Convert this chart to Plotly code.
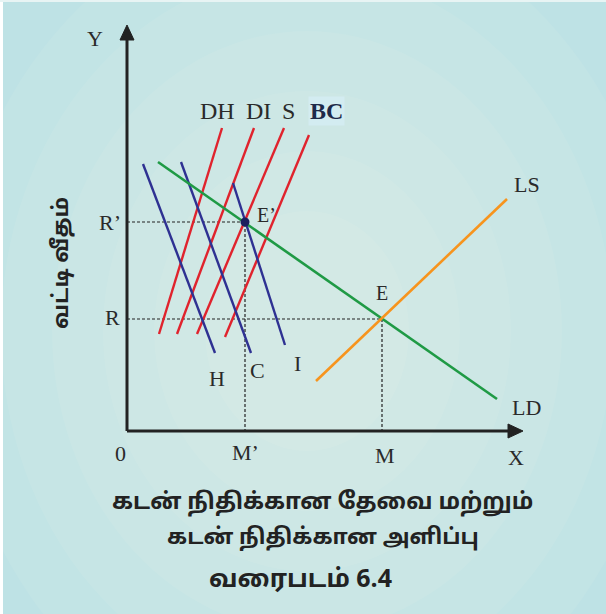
import plotly.graph_objects as go

# ---- data (units measured from the origin of the diagram) ----
x_axis_len = 396
y_axis_len = 406

red_names = ["DH", "DI", "S", "BC"]
red_x0 = [32, 50, 70, 98]
red_y0 = [97, 97, 97, 94]
red_x1 = [95, 127, 157, 182]
red_y1 = [303, 303, 303, 296]

blue_names = ["H", "C", "I"]
blue_x0 = [16, 54, 106]
blue_y0 = [267, 269, 248]
blue_x1 = [88, 124, 158]
blue_y1 = [78, 78, 86]

ld_x = [31, 370]
ld_y = [269, 32]
ls_x = [189, 380]
ls_y = [50, 232]

e1 = (118, 209)   # E'
e0 = (255, 112)   # E

# label text and positions
lbl_text = ["Y", "0", "M’", "M", "X", "R’", "R", "E’", "E", "H", "C", "I", "LS", "LD", "DH", "DI", "S"]
lbl_x = [-32, -7, 118, 258, 389, -17, -15, 139, 255, 90, 130, 170, 400, 399, 90, 131, 161]
lbl_y = [393, -22, -21, -24, -26, 209, 114, 216, 138, 53, 61, 68, 247, 24, 320, 320, 320]

y_title = "வட்டி வீதம்"
bottom_lines = ["கடன் நிதிக்கான தேவை மற்றும்", "கடன் நிதிக்கான அளிப்பு", "வரைபடம் 6.4"]
bottom_x = [195, 196, 173]
bottom_y = [-72, -107, -149]

# ---- styles ----
RED = "#e0232d"
BLUE = "#2e3192"
GREEN = "#1f9a45"
ORANGE = "#f7941d"
INK = "#222222"
BG = "#bee2e5"
SERIF = "Liberation Serif, Times New Roman, serif"
TAMIL = "Noto Sans Tamil, Lohit Tamil, Noto Sans, sans-serif"

fig = go.Figure()

def seg(x, y, color, width, dash=None):
    fig.add_trace(go.Scatter(x=x, y=y, mode="lines", hoverinfo="skip",
                             line=dict(color=color, width=width, dash=dash)))

# dashed guides
seg([0, e1[0], e1[0]], [e1[1], e1[1], 0], INK, 1.2, "3px,2px")
seg([0, e0[0], e0[0]], [e0[1], e0[1], 0], INK, 1.2, "3px,2px")

# red lines
for i in range(len(red_names)):
    seg([red_x0[i], red_x1[i]], [red_y0[i], red_y1[i]], RED, 2.4)
# blue lines
for i in range(len(blue_names)):
    seg([blue_x0[i], blue_x1[i]], [blue_y0[i], blue_y1[i]], BLUE, 2.4)
# LD and LS
seg(ld_x, ld_y, GREEN, 2.6)
seg(ls_x, ls_y, ORANGE, 2.6)

# axes with arrowheads
ah = 15
hw = 7
seg([0, 0], [0, y_axis_len - ah], INK, 3)
seg([0, x_axis_len - ah], [0, 0], INK, 3)
fig.add_trace(go.Scatter(x=[-hw, hw, 0, -hw], y=[y_axis_len - ah] * 2 + [y_axis_len, y_axis_len - ah],
                         mode="lines", fill="toself", fillcolor=INK, line=dict(color=INK, width=1),
                         hoverinfo="skip"))
fig.add_trace(go.Scatter(x=[x_axis_len - ah] * 2 + [x_axis_len, x_axis_len - ah], y=[-hw, hw, 0, -hw],
                         mode="lines", fill="toself", fillcolor=INK, line=dict(color=INK, width=1),
                         hoverinfo="skip"))

# E' point
fig.add_trace(go.Scatter(x=[e1[0]], y=[e1[1]], mode="markers", hoverinfo="skip",
                         marker=dict(color="#1b1f5e", size=9)))

anns = []
for t, x, y in zip(lbl_text, lbl_x, lbl_y):
    size = 22
    if t in ("E", "E’"):
        size = 20
    if t in ("DH", "DI", "S"):
        size = 24
    anns.append(dict(x=x, y=y, text=t, showarrow=False, xref="x", yref="y",
                     font=dict(family=SERIF, size=size, color="#2a2a2a")))
anns.append(dict(x=199, y=320, text="<b>BC</b>", showarrow=False, xref="x", yref="y",
                 bgcolor="#d3ecf1",
                 font=dict(family=SERIF, size=24, color="#1e2a4a")))
anns.append(dict(x=-65, y=168, text="<b>" + y_title + "</b>", showarrow=False, textangle=-90,
                 xref="x", yref="y", font=dict(family=TAMIL, size=22, color=INK)))
for t, x, y, s in zip(bottom_lines, bottom_x, bottom_y, [23, 22, 25]):
    anns.append(dict(x=x, y=y, text="<b>" + t + "</b>", showarrow=False, xref="x", yref="y",
                     font=dict(family=TAMIL, size=s, color=INK)))

# soft radial glow behind the drawing (background decoration)
shapes = []
glow_cx, glow_cy = 180, 100
for r in [420, 360, 300, 240, 180, 120]:
    shapes.append(dict(type="circle", xref="x", yref="y", layer="below",
                       x0=glow_cx - r * 0.85, x1=glow_cx + r * 0.85,
                       y0=glow_cy - r, y1=glow_cy + r,
                       fillcolor="rgba(255,255,240,0.07)", line=dict(width=0)))
# thin white strips at left and top edges
shapes.append(dict(type="rect", xref="paper", yref="paper", x0=0, x1=3 / 606, y0=0, y1=1,
                   fillcolor="white", line=dict(width=0), layer="above"))
shapes.append(dict(type="rect", xref="paper", yref="paper", x0=0, x1=1, y0=1 - 2 / 614, y1=1,
                   fillcolor="#e8f4f4", line=dict(width=0), layer="above"))

fig.update_layout(
    width=606, height=614,
    margin=dict(l=0, r=0, t=0, b=0),
    paper_bgcolor=BG, plot_bgcolor=BG,
    showlegend=False,
    annotations=anns,
    shapes=shapes,
    xaxis=dict(range=[-127, 479], visible=False, fixedrange=True),
    yaxis=dict(range=[-183, 431], visible=False, fixedrange=True),
)

fig.write_html("out.html", config={"displayModeBar": False},
               post_script="document.body.style.margin='0px';document.body.style.overflow='hidden';")
